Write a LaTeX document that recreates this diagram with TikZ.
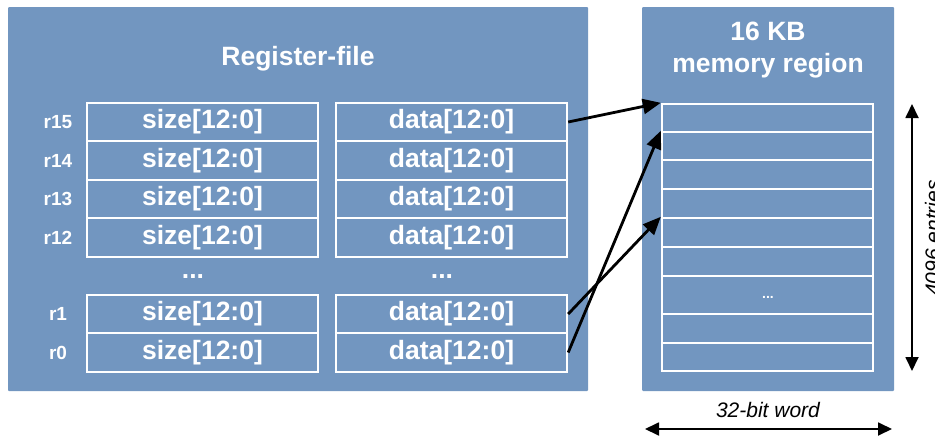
\documentclass[tikz,border=0pt]{standalone}
\usepackage{fontspec}
\setmainfont{Liberation Sans}
\usetikzlibrary{arrows.meta}
\definecolor{panelblue}{RGB}{114,150,192}
\tikzset{
  panel/.style={fill=panelblue, draw=none, rounded corners=1pt},
  cell/.style={draw=white, line width=2.4pt, fill=panelblue, minimum width=231pt, minimum height=38.5pt, inner sep=0pt,
     text=white, font=\bfseries\fontsize{26.5}{30}\selectfont},
  memcell/.style={draw=white, line width=2.4pt, fill=panelblue, minimum width=211pt, inner sep=0pt, text=white},
  rlabel/.style={text=white, font=\bfseries\fontsize{19}{22}\selectfont, inner sep=0pt},
  title/.style={text=white, font=\bfseries\fontsize{26.5}{30}\selectfont, align=center, inner sep=0pt},
  ptr/.style={line width=2.8pt, -{Triangle[length=18pt,width=15pt]}},
  dim/.style={line width=1.8pt, {Triangle[length=14pt,width=13pt]}-{Triangle[length=14pt,width=13pt]}},
  diml/.style={font=\itshape\fontsize{21}{24}\selectfont, inner sep=0pt}
}
\begin{document}
\begin{tikzpicture}[x=1pt,y=-1pt]
\useasboundingbox (0,0) rectangle (935,439);
% panels
\path[panel] (8,7) rectangle (588,391);
\path[panel] (642,7) rectangle (894,391);
\node[title] (rftitle) at (298,59) {Register-file};
\node[title] (memtitle) at (768,50) {16 KB\\[2pt]memory region};
% register rows
\foreach \n/\y in {15/122,14/160.5,13/199,12/237.5,1/314,0/352.5}{
  \node[rlabel] (r\n) at (58,\y) {r\n};
  \node[cell] (s\n) at (202.5,\y) {size[12:0]};
  \node[cell] (d\n) at (451.5,\y) {data[12:0]};
}
\node[title] (sdots) at (193,277) {...};
\node[title] (ddots) at (442,277) {...};
% memory rows
\foreach \i/\a/\b in {1/104/132,2/132/160,3/160/189,4/189/218,5/218/247,6/247/276,7/276/314,8/314/343,9/343/371}{
  \node[memcell, minimum height={\b-\a}] (m\i) at (767.5,{(\a+\b)/2}) {};
}
\node[text=white, font=\bfseries\fontsize{14}{16}\selectfont, inner sep=0pt] (mdots) at (768,297) {...};
% pointers
\draw[ptr] (d15.east) -- (m1.north west);
\draw[ptr] (d0.east) -- (m2.north west);
\draw[ptr] (d1.east) -- (m5.north west);
% dimensions
\coordinate (vt) at (912,104);
\coordinate (vb) at (912,371);
\draw[dim] (vt) -- (vb);
\node[diml, rotate=90, anchor=base] (entries) at (940,238) {4096 entries};
\coordinate (hl) at (645,429);
\coordinate (hr) at (892,429);
\draw[dim] (hl) -- (hr);
\node[diml] (word) at (768,410) {32-bit word};
\end{tikzpicture}
\end{document}
